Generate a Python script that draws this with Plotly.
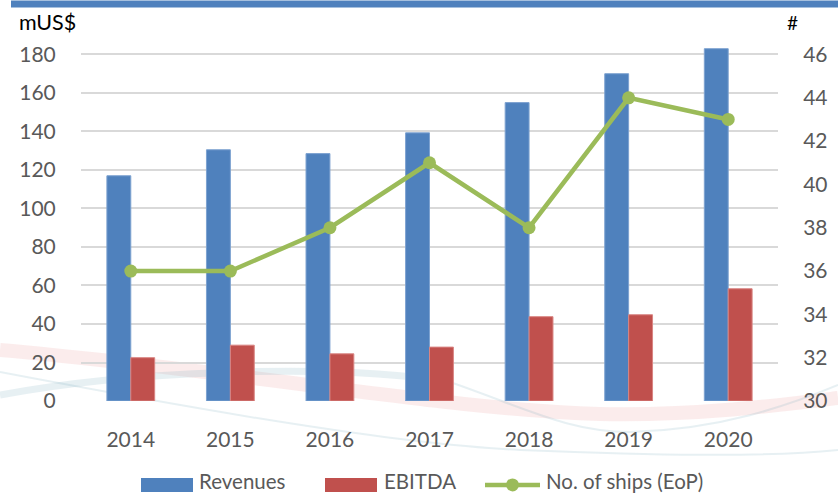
import plotly.graph_objects as go

years = ["2014", "2015", "2016", "2017", "2018", "2019", "2020"]
revenues = [117, 130.5, 128.5, 139.3, 155, 170, 183]
ebitda = [22.5, 29, 24.5, 28, 43.8, 44.8, 58.3]
ships = [36, 36, 38, 41, 38, 44, 43]

left_ticks = [0, 20, 40, 60, 80, 100, 120, 140, 160, 180]
right_ticks = [30, 32, 34, 36, 38, 40, 42, 44, 46]

# left axis runs a little past 180 so the 2020 bar is not clipped;
# the right axis is stretched by the same ratio to keep ticks aligned
LEFT_MAX = 187
RIGHT_MIN, RIGHT_TOP_TICK = 30, 46
RIGHT_MAX = RIGHT_MIN + (RIGHT_TOP_TICK - RIGHT_MIN) * LEFT_MAX / 180

W, H = 838, 495
L, R, B = 81, 778, 401
GRID_TOP = 54  # pixel row of the 180 / 46 gridline
T = B - (B - GRID_TOP) * LEFT_MAX / 180
FONT = "Lato, 'Noto Sans', sans-serif"
GREY = "#595959"
BLUE, RED, GREEN = "#4F81BD", "#C0504D", "#9BBB59"


def px(x, y):
    # pixel position -> paper coordinates (used only for decoration / legend)
    return (x - L) / (R - L), (B - y) / (B - T)


def path(points):
    # points: start, then triples of cubic bezier control points
    out = []
    x, y = px(*points[0])
    out.append(f"M {x:.4f},{y:.4f}")
    rest = points[1:]
    for i in range(0, len(rest), 3):
        seg = [px(*p) for p in rest[i:i + 3]]
        out.append("C " + " ".join(f"{a:.4f},{b:.4f}" for a, b in seg))
    return " ".join(out)


def rect(xa, ya, xb, yb, color):
    (x0, y0), (x1, y1) = px(xa, yb), px(xb, ya)
    return dict(type="rect", xref="paper", yref="paper",
                x0=x0, x1=x1, y0=y0, y1=y1,
                fillcolor=color, line=dict(width=0))


fig = go.Figure()

fig.add_trace(go.Bar(
    x=years, y=revenues, name="Revenues",
    marker=dict(color=BLUE, line=dict(color="#7DA2D0", width=1)),
))
fig.add_trace(go.Bar(
    x=years, y=ebitda, name="EBITDA",
    marker=dict(color=RED, line=dict(color="#D98583", width=1)),
))
fig.add_trace(go.Scatter(
    x=years, y=ships, name="No. of ships (EoP)", yaxis="y2",
    mode="lines+markers",
    line=dict(color=GREEN, width=4.5),
    marker=dict(color=GREEN, size=13),
))

# decorative swooshes in the background
swooshes = [
    (path([(0, 350), (250, 372), (450, 410), (600, 414),
           (700, 416), (790, 404), (838, 398)]),
     "rgba(225,120,120,0.14)", 14),
    (path([(0, 395), (120, 372), (330, 362), (450, 382)]),
     "rgba(120,170,190,0.18)", 7),
    (path([(450, 382), (530, 410), (570, 432), (630, 432),
           (720, 430), (790, 405), (838, 385)]),
     "rgba(120,170,190,0.18)", 2),
    (path([(0, 372), (200, 410), (400, 445), (520, 450),
           (650, 455), (760, 458), (838, 450)]),
     "rgba(120,170,190,0.18)", 2),
]
shapes = [
    dict(type="path", xref="paper", yref="paper", path=p,
         line=dict(color=c, width=w), layer="below")
    for p, c, w in swooshes
]
shapes.append(rect(11, 0, 838, 7, BLUE))

# hand-drawn legend (wide swatches like the original)
LEG_Y = 485
shapes.append(rect(141, 478, 193, 492, BLUE))
shapes.append(rect(325, 478, 377, 492, RED))
lx0, ly = px(485, LEG_Y)
lx1, _ = px(540, LEG_Y)
shapes.append(dict(type="line", xref="paper", yref="paper",
                   x0=lx0, x1=lx1, y0=ly, y1=ly,
                   line=dict(color=GREEN, width=4.5)))
cx0, cy0 = px(506, LEG_Y + 6.5)
cx1, cy1 = px(519, LEG_Y - 6.5)
shapes.append(dict(type="circle", xref="paper", yref="paper",
                   x0=cx0, x1=cx1, y0=cy0, y1=cy1,
                   fillcolor=GREEN, line=dict(width=0)))

legend_labels = [("Revenues", 197), ("EBITDA", 382), ("No. of ships (EoP)", 544)]
annotations = [
    dict(text=t, xref="paper", yref="paper", x=px(x, 0)[0], y=px(0, 481)[1],
         xanchor="left", yanchor="middle", showarrow=False,
         font=dict(size=20.5, color=GREY))
    for t, x in legend_labels
]
annotations += [
    dict(text="mUS$", xref="paper", yref="paper",
         x=px(17, 0)[0], y=px(0, 21)[1], xanchor="left", yanchor="middle",
         showarrow=False, font=dict(size=21.5, color="black")),
    dict(text="#", xref="paper", yref="paper",
         x=px(792, 0)[0], y=px(0, 22)[1], xanchor="center", yanchor="middle",
         showarrow=False, font=dict(size=19, color="black")),
]

fig.update_layout(
    width=W, height=H,
    margin=dict(l=L, r=W - R, t=T, b=H - B, autoexpand=False),
    paper_bgcolor="white", plot_bgcolor="rgba(0,0,0,0)",
    font=dict(family=FONT, size=21, color=GREY),
    barmode="group", bargap=0.52, bargroupgap=0,
    showlegend=False,
    shapes=shapes,
    annotations=annotations,
    xaxis=dict(
        showgrid=False, zeroline=False, showline=False, automargin=False,
        ticks="outside", ticklen=20, tickcolor="rgba(0,0,0,0)",
        tickfont=dict(size=21, color=GREY),
    ),
    yaxis=dict(
        range=[0, LEFT_MAX], tickvals=left_ticks, automargin=False,
        showgrid=True, gridcolor="#D9D9D9", gridwidth=1.5,
        zeroline=False, showline=False,
        ticks="outside", ticklen=20, tickcolor="rgba(0,0,0,0)",
        tickfont=dict(size=21, color=GREY),
    ),
    yaxis2=dict(
        range=[RIGHT_MIN, RIGHT_MAX], tickvals=right_ticks,
        overlaying="y", side="right",
        showgrid=False, zeroline=False, showline=False, automargin=False,
        ticks="outside", ticklen=20, tickcolor="rgba(0,0,0,0)",
        tickfont=dict(size=21, color=GREY),
    ),
)

# drop the default page margin so the figure sits at the window's corner
fig.write_html("out.html", config={"displayModeBar": False},
               post_script="document.body.style.margin='0';")
